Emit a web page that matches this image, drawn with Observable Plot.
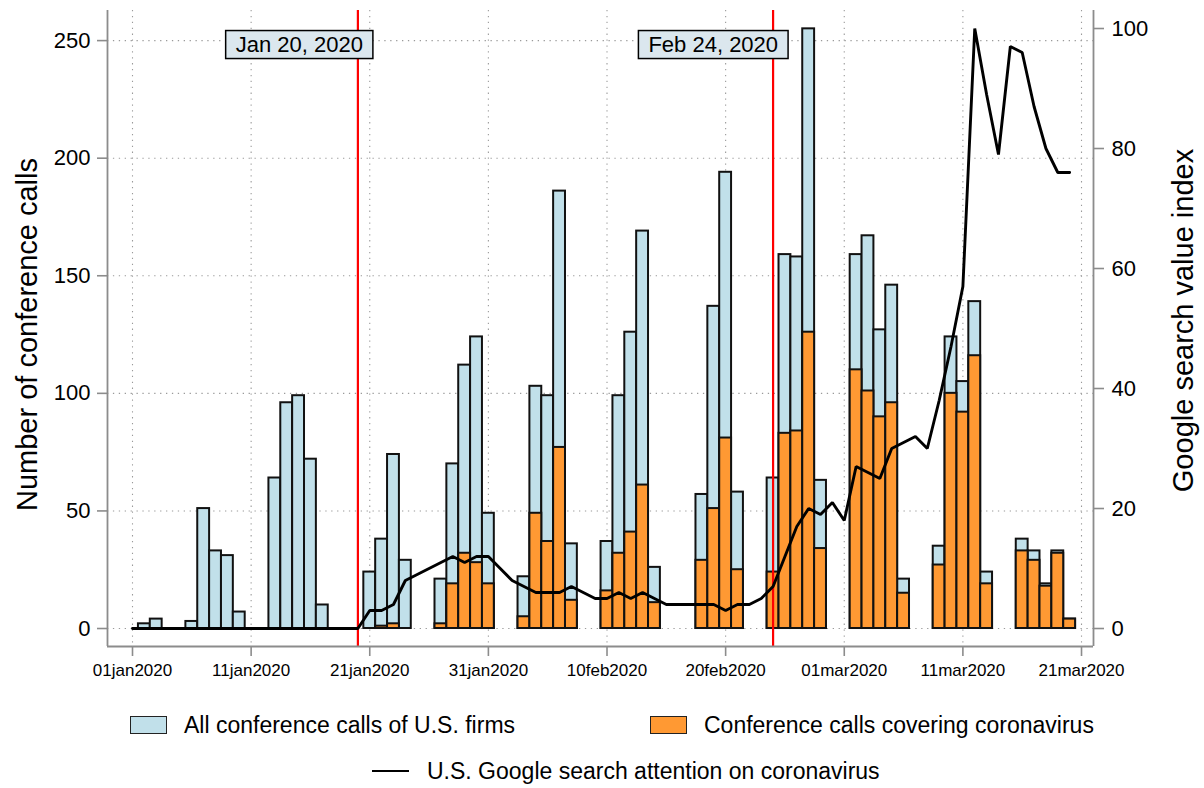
<!DOCTYPE html>
<html>
<head>
<meta charset="utf-8">
<script src="https://cdn.jsdelivr.net/npm/d3@7"></script>
<script src="https://cdn.jsdelivr.net/npm/@observablehq/plot@0.6"></script>
<style>
  html, body { margin: 0; padding: 0; background: #fff; overflow: hidden; }
  body { font-family: "Liberation Sans", Arial, Helvetica, sans-serif; }
  #wrap { width: 1204px; }
  #legend { position: relative; width: 1204px; height: 88px; font-size: 23px; color: #000; }
  .sw { position: absolute; width: 35px; height: 16px; border: 1.5px solid #222; }
  .lt { position: absolute; line-height: 26px; white-space: nowrap; }
  .ln { position: absolute; width: 37px; height: 0; border-top: 2.8px solid #000; }
</style>
</head>
<body>
<div id="wrap">
  <div id="chart"></div>
  <div id="legend">
    <div class="sw" style="left:130px; top:16px; background:#c1e0ea;"></div>
    <div class="lt" style="left:184px; top:12px;">All conference calls of U.S. firms</div>
    <div class="sw" style="left:650px; top:16px; background:#ff9933;"></div>
    <div class="lt" style="left:704px; top:12px;">Conference calls covering coronavirus</div>
    <div class="ln" style="left:372px; top:70px;"></div>
    <div class="lt" style="left:427px; top:58px;">U.S. Google search attention on coronavirus</div>
  </div>
</div>
<script>
// ---------------- data ----------------
const callDates = [
  "2020-01-02","2020-01-03","2020-01-06","2020-01-07","2020-01-08","2020-01-09","2020-01-10",
  "2020-01-13","2020-01-14","2020-01-15","2020-01-16","2020-01-17",
  "2020-01-21","2020-01-22","2020-01-23","2020-01-24",
  "2020-01-27","2020-01-28","2020-01-29","2020-01-30","2020-01-31",
  "2020-02-03","2020-02-04","2020-02-05","2020-02-06","2020-02-07",
  "2020-02-10","2020-02-11","2020-02-12","2020-02-13","2020-02-14",
  "2020-02-18","2020-02-19","2020-02-20","2020-02-21",
  "2020-02-24","2020-02-25","2020-02-26","2020-02-27","2020-02-28",
  "2020-03-02","2020-03-03","2020-03-04","2020-03-05","2020-03-06",
  "2020-03-09","2020-03-10","2020-03-11","2020-03-12","2020-03-13",
  "2020-03-16","2020-03-17","2020-03-18","2020-03-19","2020-03-20"
];
const allCalls = [
  2,4,3,51,33,31,7,
  64,96,99,72,10,
  24,38,74,29,
  21,70,112,124,49,
  22,103,99,186,36,
  37,99,126,169,26,
  57,137,194,58,
  64,159,158,255,63,
  159,167,127,146,21,
  35,124,105,139,24,
  38,33,19,33,4
];
const covidCalls = [
  0,0,0,0,0,0,0,
  0,0,0,0,0,
  0,1,2,0,
  2,19,32,28,19,
  5,49,37,77,12,
  16,32,41,61,11,
  29,51,81,25,
  24,83,84,126,34,
  110,101,90,96,15,
  27,100,92,116,19,
  33,29,18,32,4
];
// Google search index, daily from 2020-01-01 to 2020-03-20
const googleStart = "2020-01-01";
const googleIndex = [
  0,0,0,0,0,0,0,0,0,0,0,0,0,0,0,0,0,0,0,0,
  3,3,4,8,9,10,11,12,11,12,12,
  10,8,7,6,6,6,7,6,5,5,6,5,6,5,4,4,4,4,4,3,4,4,5,7,12,17,20,19,21,
  18,27,26,25,30,31,32,30,38,47,57,100,89,79,97,96,87,80,76,76
];
const eventDates = ["2020-01-20","2020-02-24"];
const eventLabels = ["Jan 20, 2020","Feb 24, 2020"];
const xTickDates = ["2020-01-01","2020-01-11","2020-01-21","2020-01-31","2020-02-10","2020-02-20","2020-03-01","2020-03-11","2020-03-21"];
const leftTicks = [0,50,100,150,200,250];
const rightTicks = [0,20,40,60,80,100];
const leftTitle = "Number of conference calls";
const rightTitle = "Google search value index";

// ---------------- scales setup ----------------
const xDomain = [new Date("2019-12-29T21:25:00Z"), new Date("2020-03-22T00:15:00Z")];
const yDomain = [-7.65, 262.8];
const k = 2.5514; // left-axis units per right-axis unit

const DAY = 864e5;
const calls = callDates.map((d, i) => {
  const t = new Date(d);
  return {date: t, x1: new Date(+t - DAY / 2), x2: new Date(+t + DAY / 2), all: allCalls[i], covid: covidCalls[i]};
});
const g0 = new Date(googleStart);
const google = googleIndex.map((v, i) => ({date: d3.utcDay.offset(g0, i), g: v}));
const events = eventDates.map((d, i) => ({date: new Date(d), label: eventLabels[i]}));
const xTicks = xTickDates.map(d => new Date(d));
const fmt = d3.utcFormat("%d%b%Y");

const gridStyle = {stroke: "#9a9a9a", strokeOpacity: 1, strokeWidth: 1.1, strokeDasharray: "1.3,4.6"};
const axisGray = "#8c8c8c";

const plot = Plot.plot({
  width: 1204,
  height: 700,
  marginLeft: 107,
  marginRight: 111,
  marginTop: 10,
  marginBottom: 54,
  style: {fontFamily: "'Liberation Sans', Arial, Helvetica, sans-serif", fontSize: "22px", color: "#000", background: "#fff", overflow: "visible"},
  x: {type: "utc", domain: xDomain, axis: null},
  y: {domain: yDomain, axis: null},
  marks: [
    Plot.gridY({ticks: leftTicks, ...gridStyle}),
    Plot.gridX({ticks: xTicks, ...gridStyle}),
    Plot.rect(calls, {x1: "x1", x2: "x2", y1: () => 0, y2: "all", fill: "#c1e0ea", stroke: "#111", strokeWidth: 2, inset: 0}),
    Plot.rect(calls.filter(d => d.covid > 0), {x1: "x1", x2: "x2", y1: () => 0, y2: "covid", fill: "#ff9933", stroke: "#111", strokeWidth: 2, inset: 0}),
    Plot.ruleX(events, {x: "date", stroke: "#ff0000", strokeWidth: 2.2}),
    Plot.line(google, {x: "date", y: d => d.g * k, stroke: "#000", strokeWidth: 2.9, strokeLinejoin: "miter"}),
    Plot.text(events, {x: "date", frameAnchor: "top", dy: 34.5, text: "label", textAnchor: "end", dx: 5, fontSize: 22, fill: "#000", lineAnchor: "middle"}),
    // spines
    Plot.ruleX([xDomain[0], xDomain[1]], {x: d => d, stroke: axisGray, strokeWidth: 1.8}),
    Plot.ruleY([yDomain[0]], {y: d => d, stroke: axisGray, strokeWidth: 1.8}),
    // axes
    Plot.axisY({anchor: "left", ticks: leftTicks, tickSize: 10, tickPadding: 7, stroke: axisGray, strokeWidth: 1.6, fill: "#000", fontSize: 22, label: null}),
    Plot.axisY({anchor: "right", ticks: rightTicks.map(v => v * k), tickFormat: d => String(Math.round(d / k)), tickSize: 10, tickPadding: 8, stroke: axisGray, strokeWidth: 1.6, fill: "#000", fontSize: 22, label: null}),
    Plot.axisX({anchor: "bottom", ticks: xTicks, tickFormat: d => fmt(d).toLowerCase(), tickSize: 10, tickPadding: 7, stroke: axisGray, strokeWidth: 1.6, fill: "#000", fontSize: 17, label: null}),
    // axis titles
    Plot.text([leftTitle], {text: d => d, frameAnchor: "left", dx: -80, dy: 6, rotate: -90, fontSize: 29, fill: "#000", textAnchor: "middle", lineAnchor: "middle"}),
    Plot.text([rightTitle], {text: d => d, frameAnchor: "right", dx: 90, dy: -8, rotate: -90, fontSize: 29, fill: "#000", textAnchor: "middle", lineAnchor: "middle"})
  ]
});

document.getElementById("chart").appendChild(plot);

// boxes behind the event annotations
const NS = "http://www.w3.org/2000/svg";
plot.querySelectorAll("text").forEach(t => {
  if (!eventLabels.includes(t.textContent)) return;
  const b = t.getBBox();
  const r = document.createElementNS(NS, "rect");
  r.setAttribute("x", b.x - 10);
  r.setAttribute("y", b.y - 1.5);
  r.setAttribute("width", b.width + 20);
  r.setAttribute("height", b.height + 3);
  if (t.getAttribute("transform")) r.setAttribute("transform", t.getAttribute("transform"));
  r.setAttribute("fill", "#dbe7ee");
  r.setAttribute("stroke", "#000");
  r.setAttribute("stroke-width", "1.5");
  t.parentNode.insertBefore(r, t);
});
</script>
</body>
</html>
